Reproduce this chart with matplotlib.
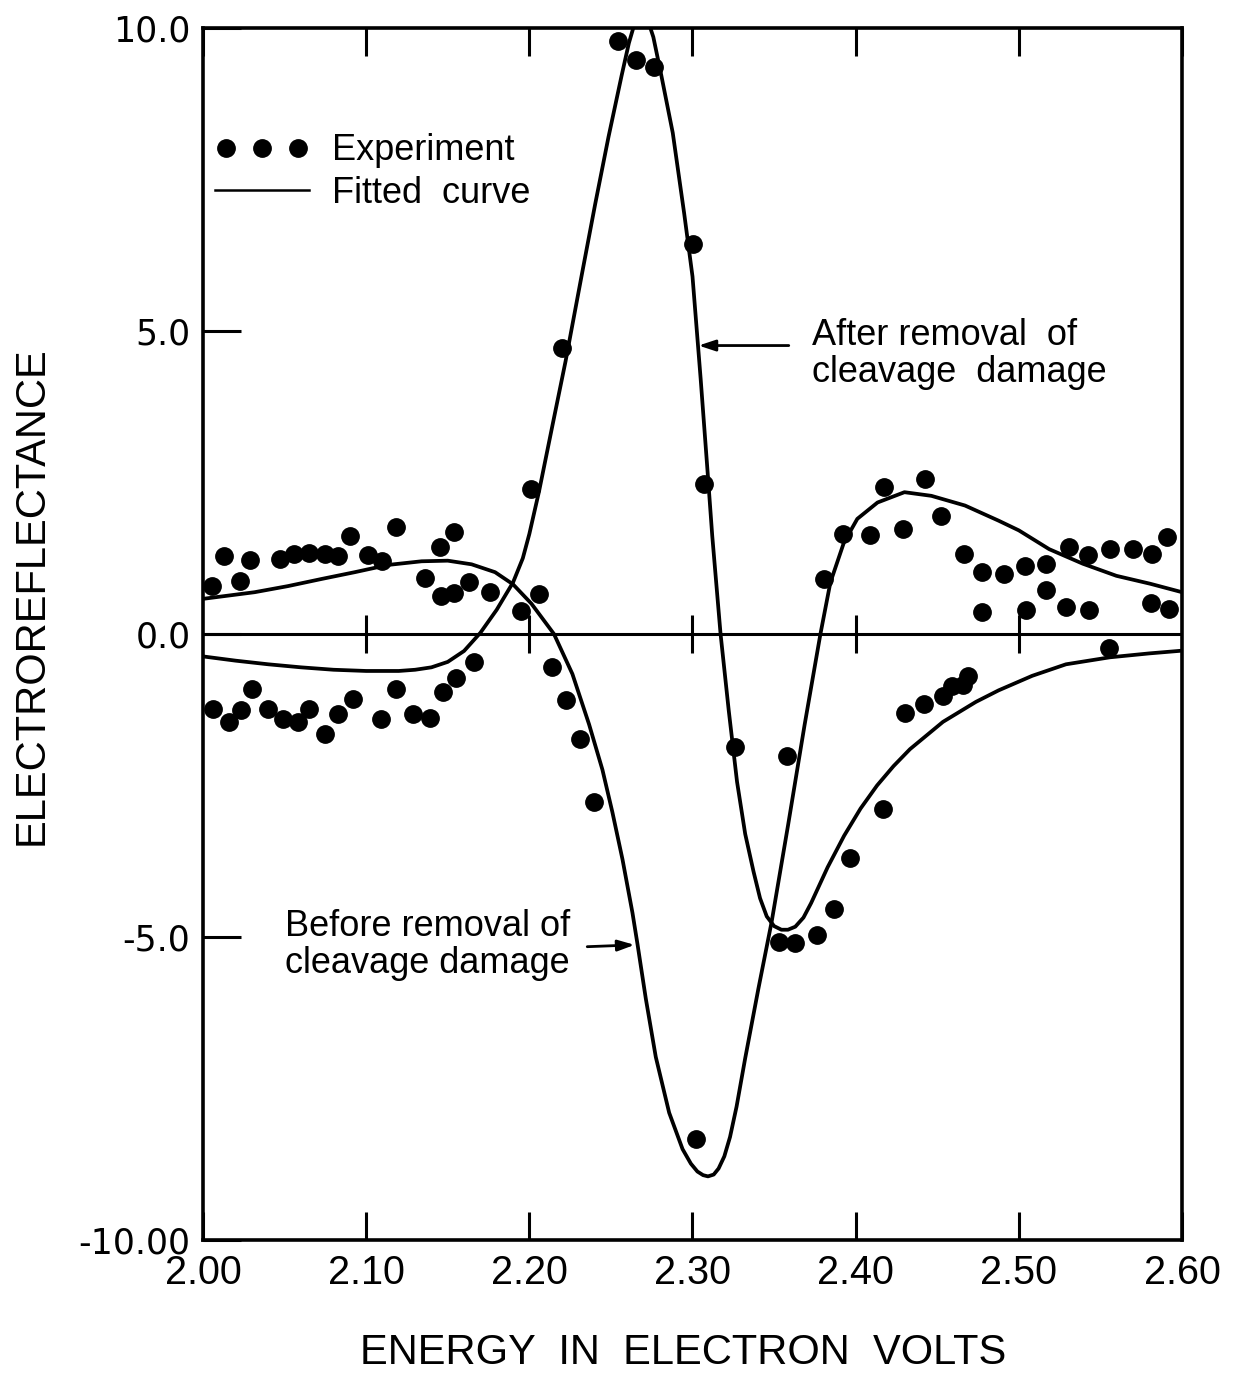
import matplotlib
matplotlib.use("Agg")
import matplotlib.pyplot as plt
from matplotlib.lines import Line2D
from matplotlib.legend_handler import HandlerLine2D

# ---------------- data ----------------
# Experimental points, "after removal of cleavage damage"
after_pts_x = [2.006, 2.016, 2.0235, 2.030, 2.040, 2.049, 2.058, 2.065, 2.075, 2.083,
               2.092, 2.109, 2.118, 2.129, 2.139, 2.147, 2.155, 2.166,
               2.201, 2.220, 2.2545, 2.2655, 2.2765, 2.3005, 2.307, 2.326,
               2.3528, 2.363, 2.376, 2.3865, 2.3967, 2.417, 2.4305, 2.442,
               2.4535, 2.459, 2.466, 2.469, 2.555]
after_pts_y = [-1.24, -1.46, -1.25, -0.91, -1.24, -1.40, -1.46, -1.24, -1.65, -1.32,
               -1.07, -1.40, -0.90, -1.32, -1.39, -0.95, -0.73, -0.47,
               2.39, 4.72, 9.78, 9.48, 9.36, 6.44, 2.47, -1.86,
               -5.09, -5.10, -4.96, -4.54, -3.69, -2.88, -1.30, -1.16,
               -1.02, -0.86, -0.84, -0.69, -0.23]

# Experimental points, "before removal of cleavage damage"
before_pts_x = [2.0055, 2.013, 2.0225, 2.029, 2.047, 2.056, 2.065, 2.075, 2.083, 2.090,
                2.101, 2.110, 2.118, 2.136, 2.145, 2.154, 2.146, 2.154, 2.163, 2.176,
                2.195, 2.206,
                2.2141, 2.2227, 2.2309, 2.2397, 2.3020, 2.358,
                2.3804, 2.3922, 2.4087, 2.4175, 2.4293, 2.4423, 2.4526, 2.4666,
                2.4773, 2.4777, 2.4907, 2.5035, 2.5045, 2.5165, 2.5165, 2.5289,
                2.5309, 2.5423, 2.5427, 2.5557, 2.5697, 2.5814, 2.5907, 2.5808, 2.5922]
before_pts_y = [0.79, 1.29, 0.88, 1.22, 1.24, 1.32, 1.34, 1.32, 1.29, 1.61,
                1.31, 1.20, 1.76, 0.92, 1.43, 1.68, 0.62, 0.68, 0.86, 0.70,
                0.38, 0.66,
                -0.54, -1.09, -1.74, -2.78, -8.34, -2.01,
                0.91, 1.65, 1.63, 2.42, 1.74, 2.56, 1.94, 1.32,
                1.03, 0.36, 0.99, 1.13, 0.39, 1.16, 0.72, 0.44,
                1.44, 1.30, 0.39, 1.40, 1.41, 1.32, 1.60, 0.51, 0.42]

# Fitted curve, "after"
after_fit_x = [2.000, 2.020, 2.040, 2.060, 2.080, 2.100, 2.120, 2.130, 2.140, 2.150,
               2.160, 2.170, 2.180, 2.190, 2.196, 2.200, 2.206, 2.214, 2.2222, 2.2323,
               2.2404, 2.2485, 2.2566, 2.2610, 2.2650, 2.2685, 2.2720, 2.2760, 2.2808,
               2.2879, 2.2949, 2.300, 2.305, 2.3091, 2.3121, 2.3172, 2.3222, 2.3273,
               2.3323, 2.3374, 2.3414, 2.3455, 2.3500, 2.3545, 2.3585, 2.3630, 2.3680,
               2.3727, 2.3828, 2.3929, 2.403, 2.4131, 2.4232, 2.4333, 2.4535, 2.4737,
               2.4876, 2.5082, 2.5289, 2.5557, 2.580, 2.600]
after_fit_y = [-0.37, -0.44, -0.50, -0.55, -0.59, -0.61, -0.61, -0.59, -0.55, -0.46,
               -0.28, 0.02, 0.40, 0.85, 1.25, 1.65, 2.36, 3.42, 4.50, 5.95,
               7.10, 8.20, 9.22, 9.75, 10.12, 10.28, 10.18, 9.85, 9.23,
               8.27, 6.94, 5.90, 4.21, 2.73, 1.62, 0.0, -1.26, -2.44,
               -3.30, -3.92, -4.36, -4.66, -4.82, -4.88, -4.88, -4.83, -4.68,
               -4.44, -3.85, -3.33, -2.88, -2.50, -2.18, -1.90, -1.45, -1.12,
               -0.93, -0.69, -0.50, -0.385, -0.32, -0.275]

# Fitted curve, "before"
before_fit_x = [2.000, 2.0317, 2.052, 2.073, 2.093, 2.1135, 2.134, 2.150, 2.1646, 2.179,
                2.190, 2.2013, 2.2151, 2.2264, 2.2366, 2.2448, 2.2509, 2.2571, 2.2632,
                2.2663, 2.2714, 2.2775, 2.2857, 2.2939, 2.2990, 2.3030, 2.3065, 2.3095,
                2.3130, 2.3160, 2.3195, 2.3230, 2.3270, 2.3323, 2.3404, 2.3485, 2.3586,
                2.3687, 2.3784, 2.3845, 2.3928, 2.401, 2.4134, 2.4299, 2.4464, 2.467,
                2.4876, 2.500, 2.5186, 2.5392, 2.5598, 2.5804, 2.600]
before_fit_y = [0.58, 0.69, 0.79, 0.91, 1.02, 1.14, 1.20, 1.21, 1.15, 1.02,
                0.82, 0.50, 0.0, -0.66, -1.49, -2.24, -2.94, -3.72, -4.60,
                -5.12, -6.02, -6.98, -7.90, -8.50, -8.74, -8.87, -8.93, -8.95,
                -8.92, -8.82, -8.62, -8.30, -7.80, -7.00, -5.85, -4.75, -3.15,
                -1.50, 0.0, 0.85, 1.51, 1.90, 2.17, 2.34, 2.28, 2.12,
                1.87, 1.71, 1.40, 1.16, 0.96, 0.83, 0.69]

x_ticks = [2.00, 2.10, 2.20, 2.30, 2.40, 2.50, 2.60]
x_tick_labels = ["2.00", "2.10", "2.20", "2.30", "2.40", "2.50", "2.60"]
y_ticks = [-10, -5, 0, 5, 10]
y_tick_labels = ["-10.00", "-5.0", "0.0", "5.0", "10.0"]

# ---------------- figure ----------------
W, H = 1246, 1374
fig = plt.figure(figsize=(W / 100, H / 100), dpi=100)
ax = fig.add_axes([203 / W, 1 - 1240 / H, (1182 - 203) / W, (1240 - 28) / H])

SANS = ["Liberation Sans", "DejaVu Sans"]

ax.set_xlim(2.0, 2.6)
ax.set_ylim(-10, 10)

ax.axhline(0, color="k", lw=2.2, zorder=2)
# crossing ticks on the zero line
ax.vlines(x_ticks[1:-1], -0.32, 0.32, color="k", lw=2.2, zorder=2)

ax.plot(after_fit_x, after_fit_y, color="k", lw=2.7, zorder=3, solid_joinstyle="round")
ax.plot(before_fit_x, before_fit_y, color="k", lw=2.7, zorder=3, solid_joinstyle="round")
ax.plot(after_pts_x, after_pts_y, "o", color="k", ms=12.5, zorder=4)
ax.plot(before_pts_x, before_pts_y, "o", color="k", ms=12.5, zorder=4)

for s in ax.spines.values():
    s.set_linewidth(2.6)

ax.set_xticks(x_ticks)
ax.set_xticklabels(x_tick_labels, family=SANS, fontsize=28.5)
ax.set_yticks(y_ticks)
ax.set_yticklabels(y_tick_labels, family=["DejaVu Sans"], fontsize=25)
ax.tick_params(axis="x", direction="in", top=True, bottom=True, length=20, width=2.2, pad=10)
ax.tick_params(axis="y", direction="in", left=True, right=False, length=27, width=2.2, pad=9)

ax.set_xlabel("ENERGY  IN  ELECTRON  VOLTS", family=SANS, fontsize=30)
ax.xaxis.set_label_coords(0.49, -0.077)
ax.set_ylabel("ELECTROREFLECTANCE", family=SANS, fontsize=30)
ax.yaxis.set_label_coords(-0.155, 0.532)

# legend
h_exp = Line2D([], [], marker="o", ls="none", color="k", ms=12.5)
h_fit = Line2D([], [], color="k", lw=1.8)
leg = ax.legend([h_exp, h_fit], ["Experiment", "Fitted  curve"], loc="upper left",
                bbox_to_anchor=(0.012, 0.913), borderaxespad=0, borderpad=0,
                frameon=False, numpoints=3, handlelength=2.6, handletextpad=0.65,
                labelspacing=0.2, prop={"family": SANS, "size": 26},
                handler_map={h_fit: HandlerLine2D(numpoints=1)})

# annotations
ax.text(2.373, 4.62, "After removal  of\ncleavage  damage", family=SANS, fontsize=26,
        ha="left", va="center", linespacing=1.05)
ax.annotate("", xy=(2.3037, 4.76), xytext=(2.359, 4.76),
            arrowprops=dict(arrowstyle="-|>,head_length=1.0,head_width=0.33",
                            color="k", lw=2.0, shrinkA=0, shrinkB=0))
ax.text(2.0503, -5.13, "Before removal of\ncleavage damage", family=SANS, fontsize=26,
        ha="left", va="center", linespacing=1.05)
ax.annotate("", xy=(2.2645, -5.13), xytext=(2.2355, -5.16),
            arrowprops=dict(arrowstyle="-|>,head_length=1.0,head_width=0.33",
                            color="k", lw=2.0, shrinkA=0, shrinkB=0))

fig.savefig("out.png", dpi=100, facecolor="white")
